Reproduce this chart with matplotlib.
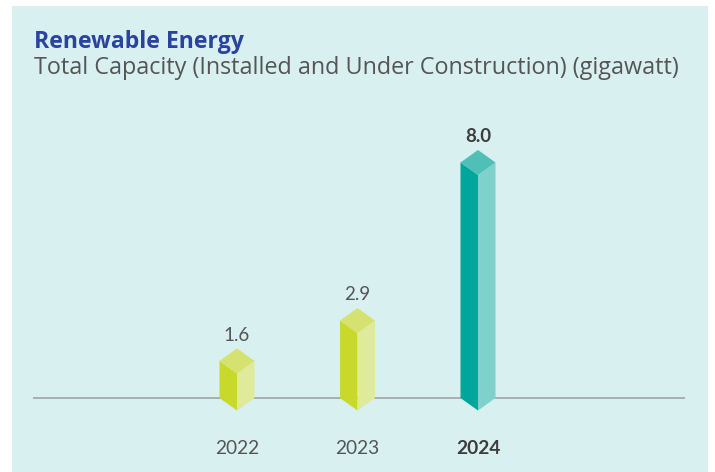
import matplotlib
matplotlib.use("Agg")
import matplotlib.pyplot as plt
from matplotlib.patches import Polygon, Rectangle

years = ["2022", "2023", "2024"]
values = [1.6, 2.9, 8.0]
value_labels = ["1.6", "2.9", "8.0"]
highlight = [False, False, True]

W, H = 715, 472
fig = plt.figure(figsize=(W / 100, H / 100), dpi=100)
fig.patch.set_facecolor("white")

# background panel
fig.patches.append(Rectangle((12 / W, 0), (708 - 12) / W, (H - 6) / H,
                             transform=fig.transFigure, facecolor="#d9f0f0",
                             edgecolor="none", zorder=-5))

# axes: baseline at y=398 px (from top), from x=33 to x=685
ax_left, ax_right = 33, 685
base_px = 398
top_px = 100
ax = fig.add_axes([ax_left / W, (H - base_px - 30) / H,
                   (ax_right - ax_left) / W, (base_px + 30 - top_px) / H])
ax.set_zorder(2)
ax.set_facecolor("none")
px_per_unit = 31.0
ymin = -30 / px_per_unit
ymax = (base_px - top_px) / px_per_unit
ax.set_ylim(ymin, ymax)
# categories: centers at 237, 357.5, 478 px
xs = list(range(len(years)))
px_per_cat = 120.5
x0 = 237
ax.set_xlim((ax_left - x0) / px_per_cat, (ax_right - x0) / px_per_cat)
for s in ax.spines.values():
    s.set_visible(False)
ax.set_xticks([])
ax.set_yticks([])
ax.axhline(0, color="#a8a8a8", lw=1.3, zorder=1)

hw = 17.5 / px_per_cat
d = 12.5 / px_per_unit
for x, v, lab, yr, hl in zip(xs, values, value_labels, years, highlight):
    if hl:
        cl, cr, ct = "#00a69c", "#7fd2cb", "#4fbfb7"
    else:
        cl, cr, ct = "#c8d92c", "#dfea9a", "#d6e270"
    left = [(x - hw, v - d), (x, v - 2 * d), (x, -d), (x - hw, 0)]
    right = [(x, v - 2 * d), (x + hw, v - d), (x + hw, 0), (x, -d)]
    top = [(x - hw, v - d), (x, v), (x + hw, v - d), (x, v - 2 * d)]
    for pts, c in ((left, cl), (right, cr), (top, ct)):
        ax.add_patch(Polygon(pts, closed=True, facecolor=c, edgecolor="none",
                             zorder=3, clip_on=False))
    ax.annotate(lab, (x, v), xytext=(0, 9.5), textcoords="offset points",
                ha="center", va="center", fontsize=13.5, family="Lato",
                fontweight="bold" if hl else "normal",
                color="#3c3c3c" if hl else "#555555", zorder=4)
    ax.annotate(yr, (x, 0), xytext=(0, -36.5), textcoords="offset points",
                ha="center", va="center", fontsize=13.8, family="Lato",
                fontweight="bold" if hl else "normal",
                color="#3c3c3c" if hl else "#555555")

fig.text(34 / W, 1 - 47.7 / H, "Renewable Energy", family="Open Sans",
         fontweight="bold", fontsize=16.6, color="#2a43a0", va="baseline")
fig.text(34 / W, 1 - 74 / H,
         "Total Capacity (Installed and Under Construction) (gigawatt)",
         family="Open Sans", fontsize=16.8, color="#555555", va="baseline")

fig.savefig("out.png", dpi=100)
